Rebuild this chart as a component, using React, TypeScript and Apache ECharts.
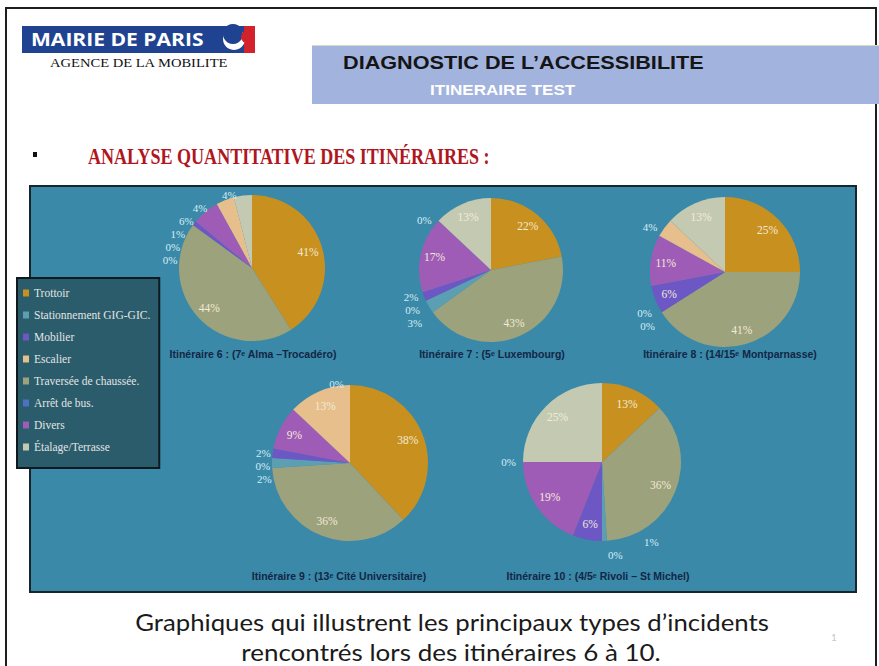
import React, { useEffect, useRef } from "react";
import * as echarts from "echarts";

// Slice order inside every pie (clockwise from 12 o'clock)
const categories = [
  "Trottoir",
  "Traversée de chaussée.",
  "Stationnement GIG-GIC.",
  "Arrêt de bus.",
  "Mobilier",
  "Divers",
  "Escalier",
  "Étalage/Terrasse",
];
// Legend order as printed
const legendOrder = [
  "Trottoir",
  "Stationnement GIG-GIC.",
  "Mobilier",
  "Escalier",
  "Traversée de chaussée.",
  "Arrêt de bus.",
  "Divers",
  "Étalage/Terrasse",
];
const sliceColors = ["#c8901e", "#9ba27c", "#5c9fb2", "#4d72c2", "#6d57c4", "#9f5cb6", "#e6bf8c", "#c4cab2"];

// Percentages per itinerary (same order as categories)
const itin6 = [41, 44, 0, 0, 1, 6, 4, 4];
const itin7 = [22, 43, 3, 0, 2, 17, 0, 13];
const itin8 = [25, 41, 0, 0, 6, 11, 4, 13];
const itin9 = [38, 36, 2, 0, 2, 9, 13, 0];
const itin10 = [13, 36, 1, 0, 6, 19, 0, 25];

const pieTitles = [
  "Itinéraire 6 : (7ᵉ Alma –Trocadéro)",
  "Itinéraire 7 : (5ᵉ Luxembourg)",
  "Itinéraire 8 : (14/15ᵉ Montparnasse)",
  "Itinéraire 9 : (13ᵉ Cité Universitaire)",
  "Itinéraire 10 : (4/5ᵉ Rivoli – St Michel)",
];
const pieValues = [itin6, itin7, itin8, itin9, itin10];

// layout (centre, radius, caption position, threshold below which the label sits outside)
const pieLayout = [
  { c: [252, 268], r: 73, t: [253, 355], out: 7 },
  { c: [491, 270], r: 72, t: [492, 355], out: 5 },
  { c: [725, 272], r: 75, t: [730, 355], out: 5 },
  { c: [350, 463], r: 78, t: [339, 577], out: 5 },
  { c: [602, 462], r: 79, t: [598, 577], out: 5 },
];

const SERIF = "'Liberation Serif', serif";

function buildOption() {
  const series: any[] = [];
  pieValues.forEach((vals, k) => {
    const L = pieLayout[k];
    series.push({
      type: "pie",
      name: "main" + k,
      center: L.c,
      radius: [0, L.r],
      startAngle: 90,
      clockwise: true,
      avoidLabelOverlap: true,
      silent: true,
      itemStyle: { borderWidth: 0 },
      label: {
        position: "outside",
        color: "#d6edf5",
        fontFamily: SERIF,
        fontSize: 11,
        formatter: "{c}%",
      },
      labelLine: { show: false, length: 1, length2: 1 },
      data: vals.map((v, i) => ({
        name: categories[i],
        value: v,
        itemStyle: { color: sliceColors[i] },
        label: { show: v < L.out },
      })),
    });
  });
  pieValues.forEach((vals, k) => {
    const L = pieLayout[k];
    series.push({
      type: "pie",
      name: "labels" + k,
      center: L.c,
      radius: [0, L.r * 1.52],
      startAngle: 90,
      clockwise: true,
      avoidLabelOverlap: false,
      silent: true,
      z: 3,
      itemStyle: { color: "rgba(0,0,0,0)", borderWidth: 0 },
      label: {
        position: "inside",
        color: "#f3ead6",
        fontFamily: SERIF,
        fontSize: 11.5,
        formatter: "{c}%",
      },
      labelLine: { show: false },
      data: vals.map((v, i) => ({
        name: categories[i],
        value: v,
        itemStyle: { color: "rgba(0,0,0,0)" },
        label: { show: v >= L.out },
      })),
    });
  });

  const graphic: any[] = [
    // slide frame
    { type: "rect", shape: { x: 6, y: 8, width: 870, height: 700 }, style: { fill: "none", stroke: "#1e1e1e", lineWidth: 2 } },
    // logo band
    { type: "rect", shape: { x: 22, y: 26, width: 233, height: 27 }, style: { fill: "#1f4390" } },
    {
      type: "text", x: 31, y: 40, scaleX: 1.24,
      style: { text: "MAIRIE DE PARIS", fill: "#ffffff", font: "bold 17px 'Open Sans'", textAlign: "left", textVerticalAlign: "middle" },
    },
    { type: "rect", shape: { x: 244, y: 26, width: 11, height: 27 }, style: { fill: "#d2222c" } },
    { type: "circle", shape: { cx: 234, cy: 39, r: 11 }, style: { fill: "#ffffff" } },
    { type: "circle", shape: { cx: 233, cy: 34, r: 10 }, style: { fill: "#1f4390" } },
    { type: "circle", shape: { cx: 247, cy: 37, r: 6 }, style: { fill: "#d2222c" } },
    {
      type: "text", x: 50, y: 63, scaleX: 1.12,
      style: { text: "AGENCE DE LA MOBILITE", fill: "#111", font: "13px 'Liberation Serif'", textAlign: "left", textVerticalAlign: "middle" },
    },
    // header band
    { type: "rect", shape: { x: 312, y: 46, width: 567, height: 58 }, style: { fill: "#a2b3de" } },
    { type: "rect", shape: { x: 312, y: 45, width: 567, height: 1 }, style: { fill: "#d6dcc4" } },
    {
      type: "text", x: 343, y: 62, scaleX: 1.14,
      style: { text: "DIAGNOSTIC DE L’ACCESSIBILITE", fill: "#151515", font: "bold 19px 'Liberation Sans'", textAlign: "left", textVerticalAlign: "middle" },
    },
    {
      type: "text", x: 430, y: 89, scaleX: 1.14,
      style: { text: "ITINERAIRE TEST", fill: "#ffffff", font: "bold 15px 'Liberation Sans'", textAlign: "left", textVerticalAlign: "middle" },
    },
    // bullet + title
    { type: "rect", shape: { x: 33, y: 152, width: 4, height: 5 }, style: { fill: "#111" } },
    {
      type: "text", x: 88, y: 156, scaleX: 0.785,
      style: { text: "ANALYSE QUANTITATIVE DES ITINÉRAIRES :", fill: "#b0161e", font: "bold 23px 'Liberation Serif'", textAlign: "left", textVerticalAlign: "middle" },
    },
    // chart panel
    { type: "rect", z: -1, shape: { x: 30, y: 186, width: 826, height: 406 }, style: { fill: "#3a89a8", stroke: "#16262c", lineWidth: 2 } },
    // bottom caption
    {
      type: "text", x: 452, y: 622, scaleX: 1.12,
      style: { text: "Graphiques qui illustrent les principaux types d’incidents", fill: "#1a1a1a", font: "23px Lato", textAlign: "center", textVerticalAlign: "middle" },
    },
    {
      type: "text", x: 451, y: 652, scaleX: 1.13,
      style: { text: "rencontrés lors des itinéraires 6 à 10.", fill: "#1a1a1a", font: "23px Lato", textAlign: "center", textVerticalAlign: "middle" },
    },
    {
      type: "text", x: 834, y: 637,
      style: { text: "1", fill: "#c8c8c8", font: "10px Lato", textAlign: "center", textVerticalAlign: "middle" },
    },
  ];
  pieTitles.forEach((t, k) => {
    graphic.push({
      type: "text", x: pieLayout[k].t[0], y: pieLayout[k].t[1], z: 5, scaleX: 1.05,
      style: { text: t, fill: "#132645", font: "bold 10px 'Liberation Sans'", textAlign: "center", textVerticalAlign: "middle" },
    });
  });

  return {
    animation: false,
    backgroundColor: "#ffffff",
    graphic,
    legend: {
      orient: "vertical",
      left: 17,
      top: 278,
      data: legendOrder,
      icon: "rect",
      itemWidth: 6,
      itemHeight: 7,
      itemGap: 10,
      padding: [9, 9, 15, 6],
      backgroundColor: "#2a5c6b",
      borderColor: "#0e1a1e",
      borderWidth: 2,
      selectedMode: false,
      textStyle: { color: "#e4e4e4", fontFamily: SERIF, fontSize: 11.5, lineHeight: 12 },
    },
    series,
  };
}

export default function App() {
  const ref = useRef<HTMLDivElement>(null);
  useEffect(() => {
    if (!ref.current) return;
    const chart = echarts.init(ref.current, undefined, { renderer: "svg" });
    chart.setOption(buildOption() as any);
    return () => chart.dispose();
  }, []);
  return <div ref={ref} style={{ position: "absolute", left: 0, top: 0, width: 879, height: 666 }} />;
}
